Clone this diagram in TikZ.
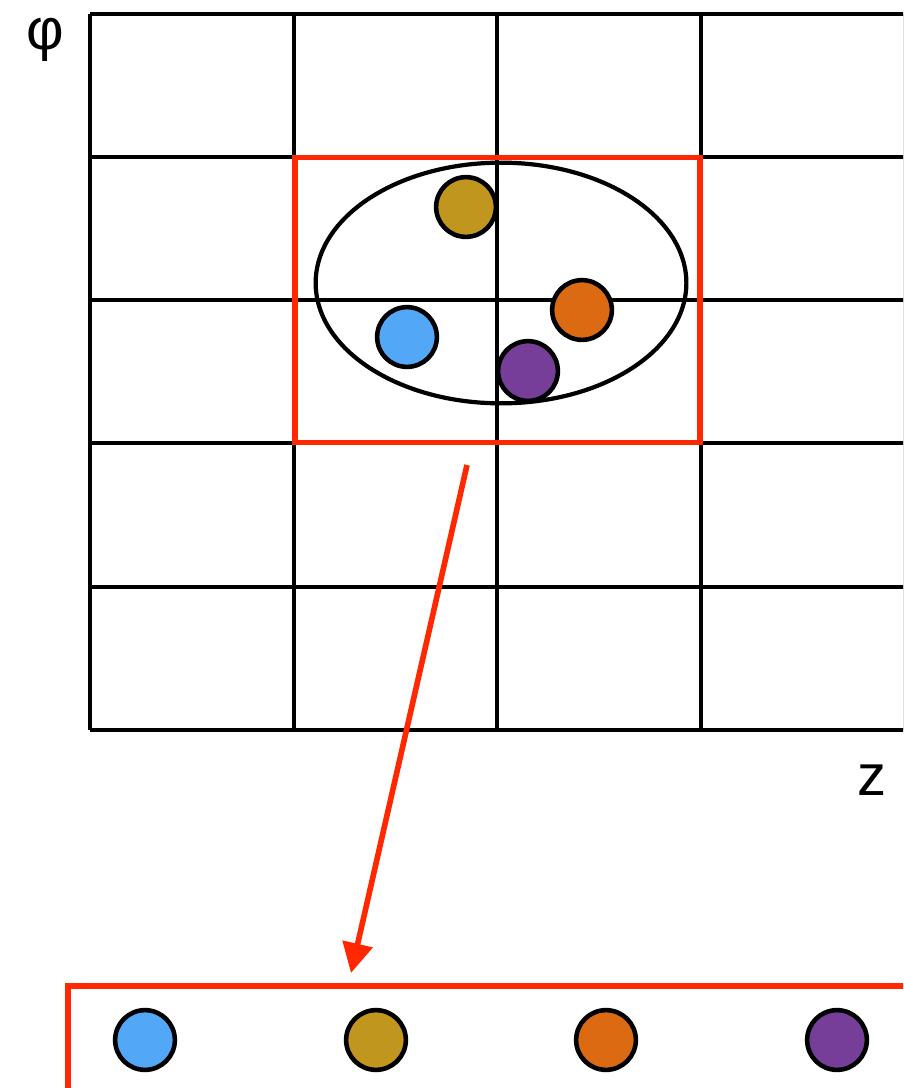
\documentclass[tikz,border=0pt]{standalone}
\usepackage{fontspec}
\setmainfont{Liberation Sans}
\usepackage{xcolor}
\usetikzlibrary{arrows.meta,positioning,shapes.geometric}

\definecolor{hitred}{RGB}{255,40,0}
\definecolor{hitblue}{RGB}{82,168,247}
\definecolor{hitgold}{RGB}{192,150,30}
\definecolor{hitorange}{RGB}{220,106,18}
\definecolor{hitpurple}{RGB}{118,62,152}

\begin{document}
\begin{tikzpicture}[
x=0.02cm, y=-0.02cm,
gridline/.style={draw=black, line width=2.8pt},
hit/.style={circle, draw=black, line width=2.6pt, minimum size=34pt, inner sep=0pt},
redbox/.style={draw=hitred, line width=3.2pt},
arr/.style={-{Triangle[length=17pt, width=17pt]}, draw=hitred, line width=3.2pt},
lbl/.style={font=\fontsize{33}{40}\selectfont, inner sep=0pt}
]
\clip (0,0) rectangle (903,1088);

% phi-z grid
\foreach \x in {90,294,497,701,905}
  \draw[gridline] (\x,14) -- (\x,730);
\foreach \y in {14,157,300,443,587,730}
  \draw[gridline] (90,\y) -- (905,\y);

\node[lbl] (phi) at (45,40) {φ};
\node[lbl] (z) at (872,780) {z};

% cluster
\node[draw=black, line width=2.4pt, ellipse, minimum width=211pt, minimum height=137pt, inner sep=0pt] (clu) at (501,283) {};
\node[hit, fill=hitgold] (h1) at (466,207) {};
\node[hit, fill=hitorange] (h2) at (582,310) {};
\node[hit, fill=hitblue] (h3) at (407,337) {};
\node[hit, fill=hitpurple] (h4) at (528,371) {};

\node[redbox, minimum width=230.8pt, minimum height=162.2pt, inner sep=0pt] (roi) at (497.5,300) {};

% flattened list
\draw[redbox] (68,986) rectangle (960,1140);
\node[hit, fill=hitblue] (l1) at (145,1040) {};
\node[hit, fill=hitgold] (l2) at (376,1040) {};
\node[hit, fill=hitorange] (l3) at (606,1040) {};
\node[hit, fill=hitpurple] (l4) at (837,1040) {};

\coordinate (from) at (467,465);
\coordinate (to) at (351,973);
\draw[arr] (from) -- (to);
\end{tikzpicture}
\end{document}
